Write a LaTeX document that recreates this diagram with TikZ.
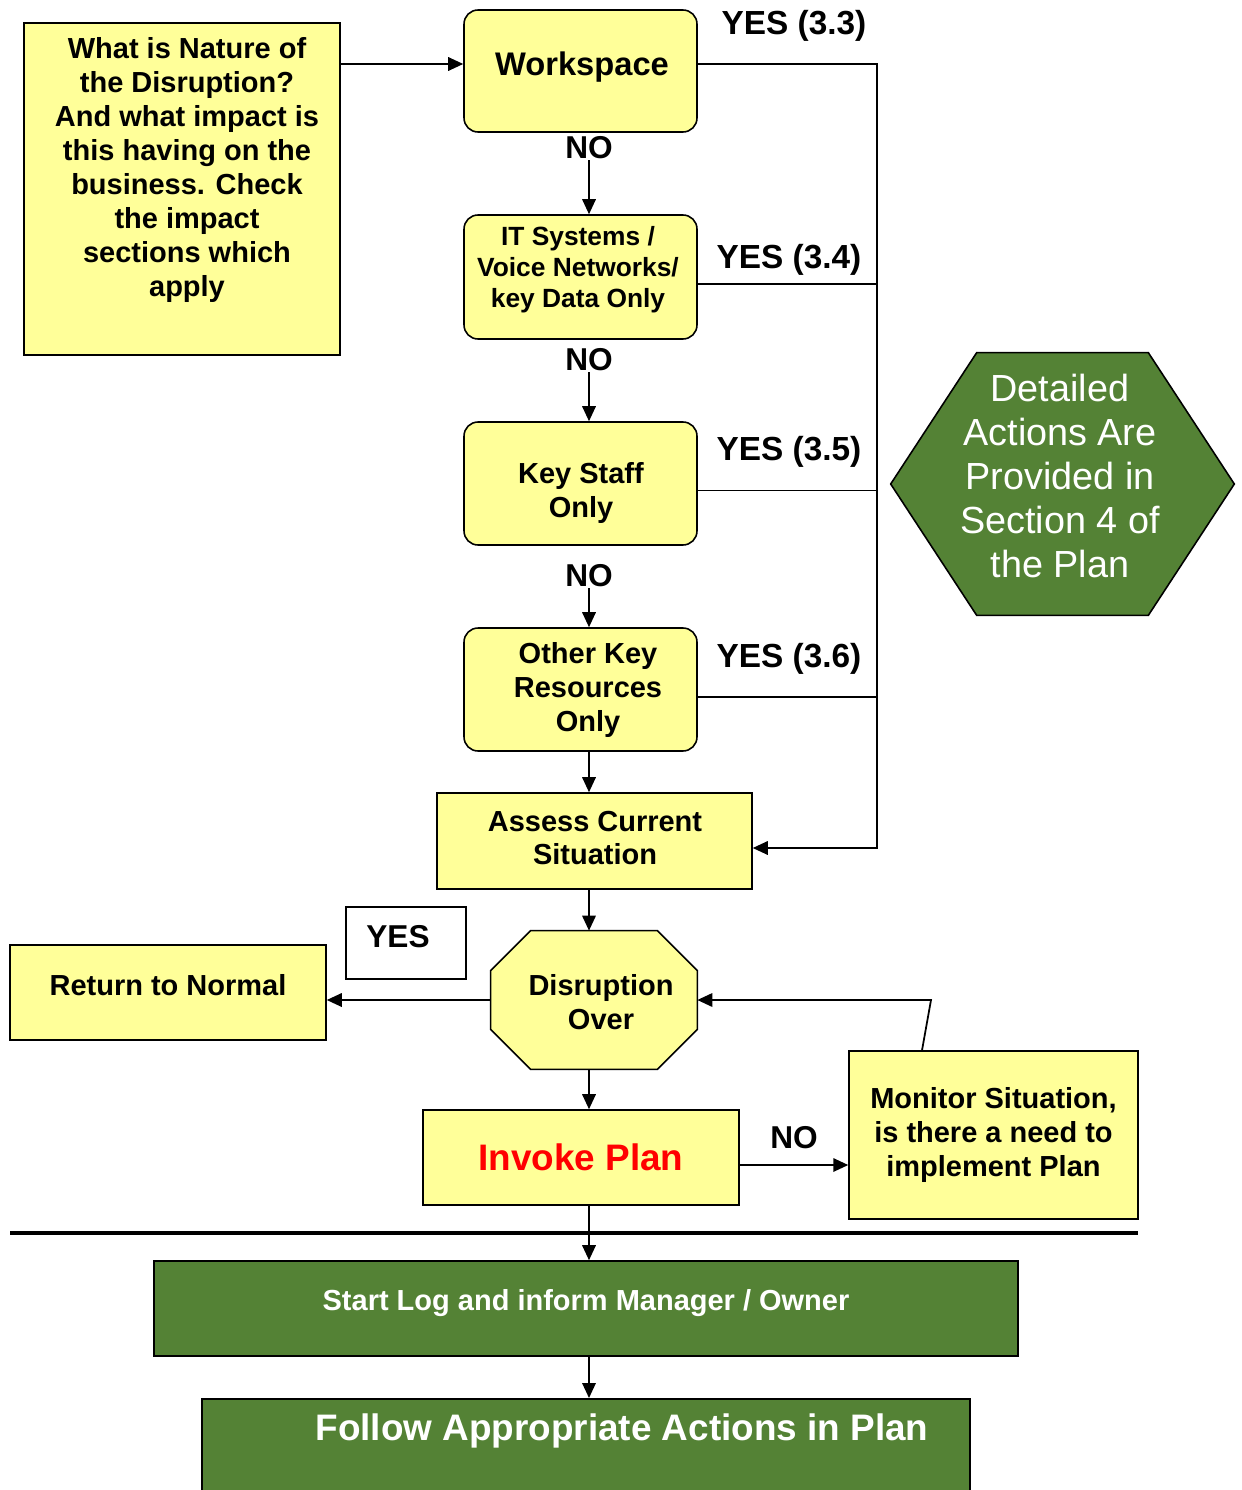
\documentclass[tikz,border=0pt]{standalone}
\usepackage{fontspec}
\setmainfont{Liberation Sans}
\usepackage{xcolor}
\usetikzlibrary{arrows.meta,backgrounds}
\definecolor{pale}{HTML}{FFFF99}
\definecolor{leaf}{HTML}{548235}
\definecolor{alarm}{HTML}{FF0000}

\begin{document}
\begin{tikzpicture}[x=0.02cm,y=-0.02cm,
    ybox/.style={draw,fill=pale,line width=0.9pt,inner sep=0pt,align=center,
      font=\bfseries\fontsize{16.5}{19.3}\selectfont},
    rbox/.style={ybox,rounded corners=0.28cm},
    gbox/.style={draw,fill=leaf,line width=0.9pt,inner sep=0pt,align=center,text=white},
    boxtext/.style={inner sep=0pt,align=center,font=\bfseries\fontsize{16.5}{19.3}\selectfont},
    lbl/.style={inner sep=0.5pt,font=\bfseries\fontsize{18}{21}\selectfont},
    yeslbl/.style={lbl,font=\bfseries\fontsize{19}{22}\selectfont},
    wire/.style={line width=1pt},
    arr/.style={wire,-{Triangle[length=0.3cm,width=0.27cm]}}]
  \useasboundingbox (0,0) rectangle (1241,1490);

  % question and the four checks
  \node[ybox,minimum width=6.32cm,minimum height=6.64cm] (qbox) at (182,189) {};
  \node[boxtext] (qtext) at (187,170)
    {What is Nature of\\the Disruption?\\And what impact is\\this having on the\\business. Check\\the impact\\sections which\\apply};
  \node[rbox,minimum width=4.66cm,minimum height=2.44cm] (ws) at (580.5,71) {};
  \node[boxtext,font=\bfseries\fontsize{18.6}{21}\selectfont] (wstext) at (582,67) {Workspace};
  \node[rbox,minimum width=4.66cm,minimum height=2.48cm] (it) at (580.5,277) {};
  \node[boxtext,font=\bfseries\fontsize{15}{17.6}\selectfont] (ittext) at (578,270)
    {IT Systems /\\Voice Networks/\\key Data Only};
  \node[rbox,minimum width=4.66cm,minimum height=2.46cm] (key) at (580.5,483.5) {};
  \node[boxtext] (keytext) at (581,493) {Key Staff\\Only};
  \node[rbox,minimum width=4.66cm,minimum height=2.46cm] (oth) at (580.5,689.5) {};
  \node[boxtext] (othtext) at (588,690) {Other Key\\Resources\\Only};
  \node[ybox,minimum width=6.3cm,minimum height=1.92cm] (assess) at (594.5,841) {};
  \node[boxtext] (assesstext) at (595,838) {Assess Current\\Situation};

  \node[lbl] (no1) at (589,148) {NO};
  \node[lbl] (no2) at (589,360) {NO};
  \node[lbl] (no3) at (589,576) {NO};
  \node[yeslbl] (y33) at (794,26) {YES (3.3)};
  \node[yeslbl] (y34) at (789,260) {YES (3.4)};
  \node[yeslbl] (y35) at (789,452) {YES (3.5)};
  \node[yeslbl] (y36) at (789,659) {YES (3.6)};

  % side note
  \node[inner sep=0pt,minimum width=6.86cm,minimum height=5.24cm] (detail) at (1062.5,484) {};
  \node[align=center,text=white,inner sep=0pt,font=\fontsize{21.5}{25}\selectfont] (detailtext) at (1060,476)
    {Detailed\\Actions Are\\Provided in\\Section 4 of\\the Plan};

  % decision
  \node[inner sep=0pt,minimum width=4.12cm,minimum height=2.76cm] (dis) at (594,1000) {};
  \node[boxtext] (distext) at (601,1002) {Disruption\\Over};
  \node[ybox,minimum width=6.32cm,minimum height=1.9cm] (ret) at (168,992.5) {};
  \node[boxtext] (rettext) at (168,985) {Return to Normal};
  \node[draw,line width=0.9pt,fill=white,minimum width=2.4cm,minimum height=1.44cm] (yesb) at (406,943) {};
  \node[lbl] (yestag) at (398,937) {YES};
  \node[ybox,minimum width=6.32cm,minimum height=1.9cm,text=alarm,
    font=\bfseries\fontsize{21}{24}\selectfont] (inv) at (581,1157.5) {Invoke Plan};
  \node[ybox,minimum width=5.78cm,minimum height=3.36cm,font=\bfseries\fontsize{16.5}{19.6}\selectfont] (mon) at (993.5,1135)
    {Monitor Situation,\\is there a need to\\implement Plan};
  \node[lbl] (no4) at (794,1138) {NO};

  % after invoking
  \node[gbox,minimum width=17.28cm,minimum height=1.9cm] (start) at (586,1308.5) {};
  \node[boxtext,text=white] (starttext) at (586,1303) {Start Log and inform Manager / Owner};
  \node[gbox,anchor=north,minimum width=15.36cm,minimum height=2.1cm] (follow) at (586,1398) {};
  \node[text=white,inner sep=0pt,font=\bfseries\fontsize{21}{24}\selectfont] (ftext) at (622,1431)
    {Follow Appropriate Actions in Plan};

  \begin{scope}[on background layer]
    \filldraw[fill=pale,line width=0.9pt]
      ([xshift=0.8cm]dis.north west) -- ([xshift=-0.8cm]dis.north east) -- ([yshift=-0.8cm]dis.north east)
      -- ([yshift=0.8cm]dis.south east) -- ([xshift=-0.8cm]dis.south east) -- ([xshift=0.8cm]dis.south west)
      -- ([yshift=0.8cm]dis.south west) -- ([yshift=-0.8cm]dis.north west) -- cycle;
    \filldraw[fill=leaf,line width=0.9pt]
      ([xshift=1.72cm]detail.north west) -- ([xshift=-1.72cm]detail.north east) -- (detail.east)
      -- ([xshift=-1.72cm]detail.south east) -- ([xshift=1.72cm]detail.south west) -- (detail.west) -- cycle;
  \end{scope}

  % connectors
  \coordinate (rail) at (877,64);
  \coordinate (kink) at (931,1000);
  \coordinate (wsin) at ([yshift=0.14cm]ws.west);
  \coordinate (asin) at ([yshift=-0.14cm]assess.east);
  \draw[arr] (qbox.east |- wsin) -- (wsin);
  \draw[arr] (no1.south) -- (no1.south |- it.north);
  \draw[arr] (no2.south) -- (no2.south |- key.north);
  \draw[arr] (no3.south) -- (no3.south |- oth.north);
  \draw[arr] (oth.south -| no1) -- (assess.north -| no1);
  \draw[arr] ([yshift=0.14cm]ws.east) -- (rail) -- (rail |- asin) -- (asin);
  \draw[wire] ([yshift=-0.14cm]it.east) coordinate (itout) -- (itout -| rail);
  \draw[wire] ([yshift=-0.14cm]key.east) coordinate (keyout) -- (keyout -| rail);
  \draw[wire] ([yshift=-0.15cm]oth.east) coordinate (othout) -- (othout -| rail);
  \draw[arr] (assess.south -| no1) -- (dis.north -| no1);
  \draw[arr] (dis.west) -- (ret.east |- dis.west);
  \draw[arr] (dis.south -| no1) -- (inv.north -| no1);
  \draw[arr] ([yshift=-0.15cm]inv.east) coordinate (invout) -- (invout -| mon.west);
  \draw[arr] ([xshift=-1.43cm]mon.north) -- (kink) -- (dis.east);
  \draw[line width=2.8pt] (10,1233) -- (1138,1233);
  \draw[arr] (inv.south -| no1) -- (start.north -| no1);
  \draw[arr] (start.south -| no1) -- (follow.north -| no1);
\end{tikzpicture}
\end{document}
